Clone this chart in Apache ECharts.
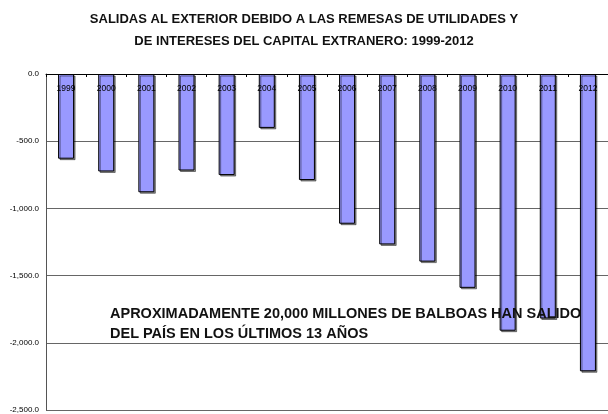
<!DOCTYPE html>
<html>
<head>
<meta charset="utf-8">
<script src="https://cdn.jsdelivr.net/npm/echarts@6/dist/echarts.min.js"></script>
<style>
  html, body { margin: 0; padding: 0; background: #fff; }
  #chart { width: 608px; height: 414px; }
</style>
</head>
<body>
<div id="chart"></div>
<script>
// años
var years = ['1999', '2000', '2001', '2002', '2003', '2004', '2005',
  '2006', '2007', '2008', '2009', '2010', '2011', '2012']
// salidas (millones de balboas)
var salidas = [-630, -725, -880, -718, -752, -401, -789,
  -1114, -1268, -1396, -1591, -1910, -1819, -2212]
var titleLines = ['SALIDAS AL EXTERIOR DEBIDO A LAS REMESAS DE UTILIDADES Y',
  'DE INTERESES DEL CAPITAL EXTRANERO: 1999-2012']
var noteLines = ['APROXIMADAMENTE 20,000 MILLONES DE BALBOAS HAN SALIDO',
  'DEL PAÍS EN LOS ÚLTIMOS 13 AÑOS']

function fmt (v) {
  var s = Math.abs(v).toFixed(1).split('.')
  var ent = s[0].replace(/\B(?=(\d{3})+(?!\d))/g, ',')
  return (v < 0 ? '-' : '') + ent + '.' + s[1]
}

var chart = echarts.init(document.getElementById('chart'))
var option = {
  animation: false,
  textStyle: { fontFamily: 'Liberation Sans, Arial, sans-serif' },
  title: {
    left: 'center',
    top: 3,
    text: titleLines.join('\n'),
    textStyle: {
      color: '#111',
      fontSize: 13,
      fontWeight: 'bold',
      lineHeight: 22,
      fontFamily: 'Liberation Sans, Arial, sans-serif'
    }
  },
  grid: {
    left: 46,
    top: 74,
    width: 565,
    bottom: 1
  },
  xAxis: {
    type: 'category',
    position: 'top',
    data: years,
    z: 10,
    axisLine: { show: true, lineStyle: { color: '#000', width: 1 } },
    axisTick: { show: true, inside: true, length: 3, lineStyle: { color: '#000' } },
    axisLabel: {
      inside: true,
      margin: 10,
      color: '#000',
      fontSize: 8.5
    },
    splitLine: { show: false }
  },
  yAxis: {
    type: 'value',
    min: -2500,
    max: 0,
    interval: 500,
    axisLine: { show: true, lineStyle: { color: '#555', width: 1 } },
    axisTick: { show: false },
    axisLabel: {
      color: '#000',
      fontSize: 8,
      margin: 7,
      formatter: fmt
    },
    splitLine: { show: true, lineStyle: { color: '#666', width: 1 } }
  },
  series: [{
    type: 'bar',
    data: salidas,
    barWidth: 16,
    itemStyle: {
      color: '#9999ff',
      borderColor: '#000',
      borderWidth: 1,
      shadowColor: 'rgba(0,0,0,0.45)',
      shadowOffsetX: 1.5,
      shadowOffsetY: 1.5,
      shadowBlur: 0
    },
    z: 3
  }],
  graphic: [{
    type: 'text',
    left: 110,
    top: 304,
    z: 100,
    style: {
      text: noteLines.join('\n'),
      fill: '#111',
      font: 'bold 14.5px "Liberation Sans", Arial, sans-serif',
      lineHeight: 20
    }
  }]
}
chart.setOption(option)
</script>
</body>
</html>
